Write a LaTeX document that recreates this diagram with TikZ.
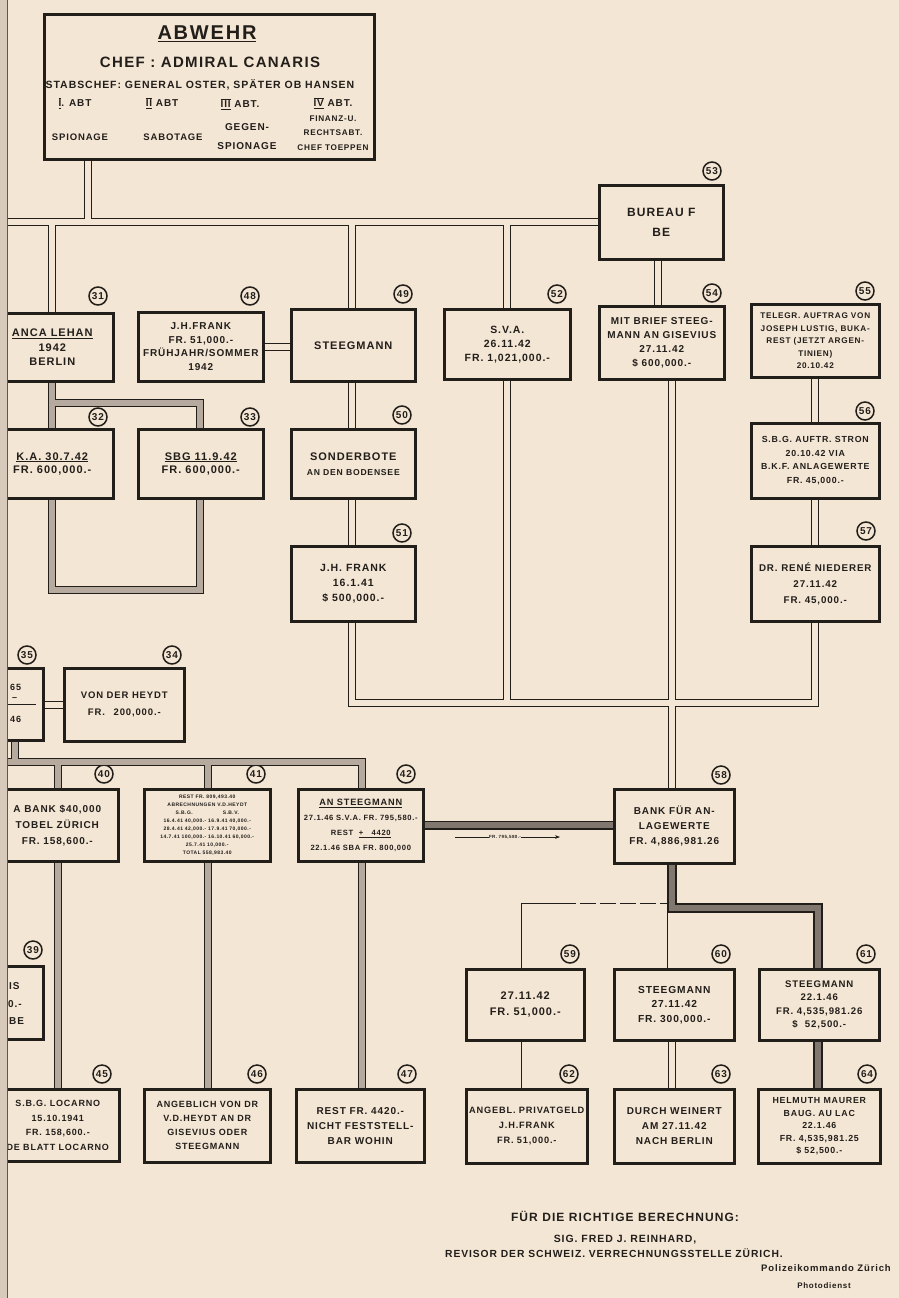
\documentclass[tikz,border=0pt]{standalone}
\usepackage{fontspec}
\setmainfont{Liberation Sans}[LetterSpace=9]
\usetikzlibrary{arrows.meta}
\definecolor{paper}{HTML}{F4E6D5}
\definecolor{ink}{HTML}{221E1A}
\newcommand\fz[2]{\fontsize{#1}{#2}\selectfont\bfseries}
\newcommand\romn[1]{$\overline{\underline{\hbox{#1}}}$}
\tikzset{
  box/.style={draw=ink, line width=2.6pt, fill=paper, anchor=north west, inner sep=1pt, align=center, text=ink},
  num/.style={circle, draw=ink, line width=1.5pt, inner sep=0pt, minimum size=18pt, fill=paper, text=ink, font=\fz{10}{10}},
  lbl/.style={text=ink, inner sep=0pt, align=center},
  dbl/.style={draw=ink, line width=0.9pt, double=paper, double distance=6pt},
  wide/.style={draw=ink, line width=0.9pt, double=paper, double distance=9pt},
  hatch/.style={draw=ink, line width=1pt, double=ink!30!paper, double distance=6pt},
  heavy/.style={draw=ink, line width=1.6pt, double=ink!55!paper, double distance=6pt},
}
\begin{document}
\begin{tikzpicture}[x=1pt,y=-1pt]
\fill[paper] (0,0) rectangle (899,1298);
\useasboundingbox (0,0) rectangle (899,1298);

% reference coordinates
\coordinate (x8) at (8,0);
\coordinate (x15) at (15,0);
\coordinate (x52) at (52,0);
\coordinate (x58) at (58,0);
\coordinate (x88) at (88,0);
\coordinate (x200) at (200,0);
\coordinate (x208) at (208,0);
\coordinate (x352) at (352,0);
\coordinate (x362) at (362,0);
\coordinate (x507) at (507,0);
\coordinate (x526) at (526,0);
\coordinate (x560) at (560,0);
\coordinate (x658) at (658,0);
\coordinate (x672) at (672,0);
\coordinate (x815) at (815,0);
\coordinate (x818) at (818,0);
\coordinate (y403) at (0,403);
\coordinate (y590) at (0,590);
\coordinate (y703) at (0,703);
\coordinate (y762) at (0,762);
\coordinate (y908) at (0,908);

% ABWEHR box
\node[box, minimum width=330pt, minimum height=145pt, line width=2.8pt] (abw) at (43,13) {};
\node[lbl, font=\fz{20}{20}] (tA1) at (207,34) {\underline{ABWEHR}};
\node[lbl, font=\fz{15}{15}] (tA2) at (210,62) {CHEF : ADMIRAL CANARIS};
\node[lbl, font=\fz{10.5}{10}] (tA3) at (200,85) {STABSCHEF: GENERAL OSTER, SPÄTER OB HANSEN};
\node[lbl, font=\fz{10}{10}] (tA4) at (75,103) {\romn{I}. ABT};
\node[lbl, font=\fz{10}{10}] (tA5) at (162,103) {\romn{II} ABT};
\node[lbl, font=\fz{10}{10}] (tA6) at (240,104) {\romn{III} ABT.};
\node[lbl, font=\fz{10}{10}] (tA7) at (333,103) {\romn{IV} ABT.};
\node[lbl, font=\fz{9.5}{10}] (tA8) at (80,137) {SPIONAGE};
\node[lbl, font=\fz{9.5}{10}] (tA9) at (173,137) {SABOTAGE};
\node[lbl, font=\fz{10}{19}] (tA10) at (247,137) {GEGEN-\\SPIONAGE};
\node[lbl, font=\fz{8.2}{14.5}] (tA11) at (333,133) {FINANZ-U.\\RECHTSABT.\\CHEF TOEPPEN};

% boxes
\node[box, minimum width=124pt, minimum height=74pt, font=\fz{12}{20}] (b53) at (598,184) {BUREAU F\\BE};
\node[box, minimum width=122pt, minimum height=68pt, font=\fz{11}{14.5}] (b31) at (-10,312) {\underline{ANCA LEHAN}\\1942\\BERLIN};
\node[box, minimum width=125pt, minimum height=69pt, font=\fz{10}{13.5}] (b48) at (137,311) {J.H.FRANK\\FR. 51,000.-\\FRÜHJAHR/SOMMER\\1942};
\node[box, minimum width=124pt, minimum height=72pt, font=\fz{11}{14}] (b49) at (290,308) {STEEGMANN};
\node[box, minimum width=126pt, minimum height=70pt, font=\fz{10.5}{14}] (b52) at (443,308) {S.V.A.\\26.11.42\\FR. 1,021,000.-};
\node[box, minimum width=125pt, minimum height=73pt, font=\fz{10}{14}] (b54) at (598,305) {MIT BRIEF STEEG-\\MANN AN GISEVIUS\\27.11.42\\\$ 600,000.-};
\node[box, minimum width=128pt, minimum height=73pt, font=\fz{8.2}{12.5}] (b55) at (750,303) {TELEGR. AUFTRAG VON\\JOSEPH LUSTIG, BUKA-\\REST (JETZT ARGEN-\\TINIEN)\\20.10.42};
\node[box, minimum width=122pt, minimum height=69pt, font=\fz{11}{13.5}] (b32) at (-10,428) {\underline{K.A. 30.7.42}\\FR. 600,000.-};
\node[box, minimum width=125pt, minimum height=69pt, font=\fz{11}{13.5}] (b33) at (137,428) {\underline{SBG 11.9.42}\\FR. 600,000.-};
\node[box, minimum width=124pt, minimum height=69pt, font=\fz{11}{15}] (b50) at (290,428) {SONDERBOTE\\{\fz{8.6}{10}AN DEN BODENSEE}};
\node[box, minimum width=128pt, minimum height=75pt, font=\fz{8.8}{13.5}] (b56) at (750,422) {S.B.G. AUFTR. STRON\\20.10.42 VIA\\B.K.F. ANLAGEWERTE\\FR. 45,000.-};
\node[box, minimum width=124pt, minimum height=75pt, font=\fz{10.5}{15}] (b51) at (290,545) {J.H. FRANK\\16.1.41\\\$ 500,000.-};
\node[box, minimum width=128pt, minimum height=75pt, font=\fz{9.8}{16}] (b57) at (750,545) {DR. RENÉ NIEDERER\\27.11.42\\FR. 45,000.-};
\node[box, minimum width=52pt, minimum height=72pt] (b35) at (-10,667) {};
\node[box, minimum width=120pt, minimum height=73pt, font=\fz{9.5}{17}] (b34) at (63,667) {VON DER HEYDT\\FR. \phantom{2}200,000.-};
\node[box, minimum width=122pt, minimum height=72pt, font=\fz{10}{16}] (b40) at (-5,788) {A BANK \$40,000\\TOBEL ZÜRICH\\FR. 158,600.-};
\node[box, minimum width=126pt, minimum height=72pt, font=\fz{5}{8}] (b41) at (143,788) {REST FR. 809,493.40\\ABRECHNUNGEN V.D.HEYDT\\S.B.G.\hspace{30pt}S.B.V.\\16.4.41 40,000.- 16.9.41 40,000.-\\28.4.41 42,000.- 17.9.41 70,000.-\\14.7.41 100,000.- 16.10.41 60,000.-\\25.7.41 10,000.-\hspace{40pt}\\TOTAL 558,983.40};
\node[box, minimum width=125pt, minimum height=72pt, font=\fz{7.6}{15}] (b42) at (297,788) {{\fz{9.2}{15}\underline{AN STEEGMANN}}\\27.1.46 S.V.A. FR. 795,580.-\\REST \ \underline{+ \ \ 4420}\\22.1.46 SBA FR. 800,000};
\node[box, minimum width=120pt, minimum height=74pt, font=\fz{10}{15}] (b58) at (613,788) {BANK FÜR AN-\\LAGEWERTE\\FR. 4,886,981.26};
\node[box, minimum width=82pt, minimum height=73pt] (b39) at (-40,965) {};
\node[box, minimum width=118pt, minimum height=71pt, font=\fz{11}{16}] (b59) at (465,968) {27.11.42\\FR. 51,000.-};
\node[box, minimum width=120pt, minimum height=71pt, font=\fz{10.2}{14.5}] (b60) at (613,968) {STEEGMANN\\27.11.42\\FR. 300,000.-};
\node[box, minimum width=120pt, minimum height=71pt, font=\fz{9.6}{13.5}] (b61) at (758,968) {STEEGMANN\\22.1.46\\FR. 4,535,981.26\\\$ \ 52,500.-};
\node[box, minimum width=123pt, minimum height=72pt, font=\fz{9}{14.5}] (b45) at (-5,1088) {S.B.G. LOCARNO\\15.10.1941\\FR. 158,600.-\\DE BLATT LOCARNO};
\node[box, minimum width=126pt, minimum height=73pt, font=\fz{9}{14}] (b46) at (143,1088) {ANGEBLICH VON DR\\V.D.HEYDT AN DR\\GISEVIUS ODER\\STEEGMANN};
\node[box, minimum width=128pt, minimum height=73pt, font=\fz{10}{15}] (b47) at (295,1088) {REST FR. 4420.-\\NICHT FESTSTELL-\\BAR WOHIN};
\node[box, minimum width=121pt, minimum height=74pt, font=\fz{9.2}{15}] (b62) at (465,1088) {ANGEBL. PRIVATGELD\\J.H.FRANK\\FR. 51,000.-};
\node[box, minimum width=120pt, minimum height=74pt, font=\fz{10}{15}] (b63) at (613,1088) {DURCH WEINERT\\AM 27.11.42\\NACH BERLIN};
\node[box, minimum width=122pt, minimum height=74pt, font=\fz{8.8}{12.5}] (b64) at (757,1088) {HELMUTH MAURER\\BAUG. AU LAC\\22.1.46\\FR. 4,535,981.25\\\$ 52,500.-};

% partial texts of cut boxes
\node[lbl, anchor=west, font=\fz{9}{9}] (t35a) at (10,687) {65};
\node[lbl, anchor=west, font=\fz{9}{9}] (t35b) at (12,699) {--};
\node[lbl, anchor=west, font=\fz{9}{9}] (t35c) at (10,719) {46};
\draw[ink, line width=1pt] (t35b.south west) ++(-6,4) -- ++(30,0);
\node[lbl, anchor=west, font=\fz{10}{10}] (t39a) at (9,986) {IS};
\node[lbl, anchor=west, font=\fz{10}{10}] (t39b) at (8,1004) {0.-};
\node[lbl, anchor=west, font=\fz{10}{10}] (t39c) at (9,1021) {BE};

% number circles
\foreach \n/\x/\y in {53/712/171,31/98/296,48/250/296,49/403/294,52/557/294,54/712/293,55/865/291,32/98/417,33/250/417,50/402/415,56/865/411,51/402/533,57/866/531,35/27/655,34/172/655,40/104/774,41/256/774,42/406/774,58/721/775,39/33/950,59/570/954,60/721/954,61/866/954,45/102/1074,46/257/1074,47/407/1074,62/569/1074,63/721/1074,64/867/1074}
  \node[num] (n\n) at (\x,\y) {\n};

% connectors
\draw[dbl] (abw.south -| x88) -- (b53.west -| x88)
  (x8 |- b53.west) -- (b53.west)
  (b53.west -| x52) -- (b31.north -| x52)
  (b53.west -| x352) -- (b49.north -| x352)
  (b53.west -| x507) -- (b52.north -| x507);
\draw[dbl] (b53.south -| x658) -- (b54.north -| x658);
\draw[dbl] (b48.east) -- (b48.east -| b49.west);
\draw[dbl] (b49.south -| x352) -- (b50.north -| x352)
  (b50.south -| x352) -- (b51.north -| x352);
\draw[dbl] (b55.south -| x815) -- (b56.north -| x815)
  (b56.south -| x815) -- (b57.north -| x815);
\draw[dbl] (b51.south -| x352) |- (y703 -| x815) -- (b57.south -| x815)
  (b52.south -| x507) -- (y703 -| x507)
  (b54.south -| x672) -- (b58.north -| x672);
\draw[hatch] (b31.south -| x52) -- (b32.north -| x52)
  (y403 -| x52) -| (b33.north -| x200)
  (b32.south -| x52) |- (y590 -| x200) -- (b33.south -| x200);
\draw[dbl] (b35.east |- b34.west) -- (b34.west);
\draw[hatch] (x8 |- y762) -- (y762 -| x362) -- (b42.north -| x362)
  (b35.south -| x15) -- (y762 -| x15)
  (y762 -| x58) -- (b40.north -| x58)
  (y762 -| x208) -- (b41.north -| x208);
\draw[hatch] (b40.south -| x58) -- (b45.north -| x58)
  (b41.south -| x208) -- (b46.north -| x208)
  (b42.south -| x362) -- (b47.north -| x362);
\draw[heavy] (b42.east) -- (b42.east -| b58.west);
\node[lbl, font=\fz{4.5}{5}] (arr) at (505,837) {FR. 795,580.-};
\coordinate (aL) at (455,837);
\coordinate (aR) at (560,837);
\draw[ink, line width=1pt] (aL) -- (arr.west);
\draw[ink, line width=1pt, -{Stealth[length=5pt]}] (arr.east) -- (aR);

\draw[wide] (y908 -| x672) -- (b60.north -| x672);
\draw[wide] (b59.north -| x526) |- (y908 -| x560);
\draw[wide, dash pattern=on 16pt off 4pt] (y908 -| x560) -- (y908 -| x672);
\draw[heavy] (b58.south -| x672) |- (y908 -| x818) -- (b61.north -| x818);
\draw[wide] (b59.south -| x526) -- (b62.north -| x526);
\draw[dbl] (b60.south -| x672) -- (b63.north -| x672);
\draw[heavy] (b61.south -| x818) -- (b64.north -| x818);

% bottom texts
\node[lbl, font=\fz{12}{12}] (f1) at (625,1216) {FÜR DIE RICHTIGE BERECHNUNG:};
\node[lbl, font=\fz{10.5}{10.5}] (f2) at (625,1240) {SIG. FRED J. REINHARD,};
\node[lbl, font=\fz{10.3}{10}] (f3) at (614,1253) {REVISOR DER SCHWEIZ. VERRECHNUNGSSTELLE ZÜRICH.};
\node[lbl, font=\fz{9.5}{9.5}] (f4) at (826,1268) {Polizeikommando Zürich};
\node[lbl, font=\fz{8}{8}] (f5) at (824,1286) {Photodienst};

% left page edge
\fill[paper!88!black] (0,0) rectangle (7,1298);
\draw[ink!75, line width=1.3pt] (7.5,0) -- (7.5,1298);
\end{tikzpicture}
\end{document}
